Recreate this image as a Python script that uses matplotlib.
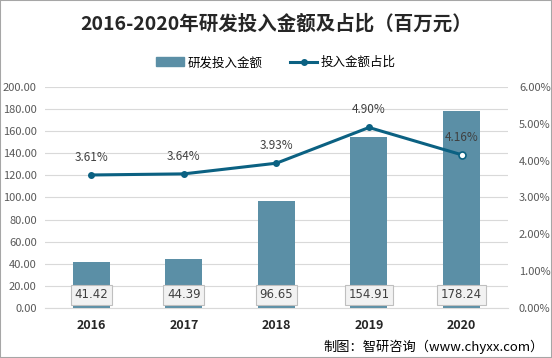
import matplotlib.pyplot as plt
from matplotlib.lines import Line2D
from matplotlib.patches import Patch

plt.rcParams['font.family'] = ['Noto Sans CJK SC', 'DejaVu Sans']

years = ["2016", "2017", "2018", "2019", "2020"]
amount = [41.42, 44.39, 96.65, 154.91, 178.24]
ratio = [3.61, 3.64, 3.93, 4.90, 4.16]

bar_color = "#5b8fa6"
line_color = "#0b6182"

fig = plt.figure(figsize=(5.52, 3.58), dpi=100)
ax = fig.add_axes([0.0815, 0.14, 0.8385, 0.617])
ax2 = ax.twinx()

x = list(range(len(years)))
ax.bar(x, amount, width=0.4, color=bar_color, zorder=2)
ax.set_xlim(-0.5, 4.5)
ax.set_ylim(0, 200)
ax.set_yticks(range(0, 201, 20))
ax.set_yticklabels(["%.2f" % v for v in range(0, 201, 20)])
ax.set_xticks(x)
ax.set_xticklabels(years, fontweight="bold", fontsize=9, color="#262626")
ax.grid(axis="y", color="#d9d9d9", linewidth=0.8, zorder=0)
ax.set_axisbelow(True)
for s in ax.spines.values():
    s.set_visible(False)
for s in ax2.spines.values():
    s.set_visible(False)
ax.spines["bottom"].set_visible(True)
ax.spines["bottom"].set_color("#d9d9d9")
ax.tick_params(axis="y", length=0, labelsize=8, labelcolor="#595959", pad=6)
ax.tick_params(axis="x", length=0, pad=8)

# value boxes near the bottom of each bar
for i, v in enumerate(amount):
    ax2.text(i, 0.06, "%.2f" % v, transform=ax2.get_xaxis_transform(), ha="center", va="center",
             fontsize=8.5, color="#404040", family="DejaVu Sans",
             bbox=dict(boxstyle="square,pad=0.3", fc="#f2f2f2", ec="#bfbfbf", lw=0.8), zorder=5)

ax2.plot(x, ratio, color=line_color, linewidth=2.2, zorder=3)
ax2.plot(x[:-1], ratio[:-1], "o", color=line_color, markersize=4, zorder=4)
ax2.plot(x[-1], ratio[-1], "o", mfc="white", mec=line_color, mew=1.2, markersize=5, zorder=4)
ax2.set_ylim(0, 6)
ax2.set_yticks(range(0, 7))
ax2.set_yticklabels(["%.2f%%" % v for v in range(0, 7)])
ax2.tick_params(axis="y", length=0, labelsize=8, labelcolor="#595959", pad=8)
for i, v in enumerate(ratio):
    ax2.text(i, v + 0.3, "%.2f%%" % v, ha="center", va="bottom", fontsize=8.5, color="#404040")

fig.text(0.5, 0.935, "2016-2020年研发投入金额及占比（百万元）", ha="center", va="center",
         fontsize=14, fontweight="bold", color="#262626")

handles = [Patch(color=bar_color),
           Line2D([0], [0], color=line_color, lw=2.2, marker="o", markersize=4)]
fig.legend(handles, ["研发投入金额", "投入金额占比"], loc="center", bbox_to_anchor=(0.5, 0.825),
           ncol=2, frameon=False, fontsize=9, handlelength=2.2, columnspacing=2.2, handletextpad=0.3)

fig.text(0.985, 0.03, "制图：智研咨询（www.chyxx.com）", ha="right", va="center",
         fontsize=9.5, color="#000000")

fig.patches.append(plt.Rectangle((0, 0), 1, 1, transform=fig.transFigure, fill=False,
                                 ec="#a6a6a6", lw=1.5))

fig.savefig("out.png", dpi=100)
